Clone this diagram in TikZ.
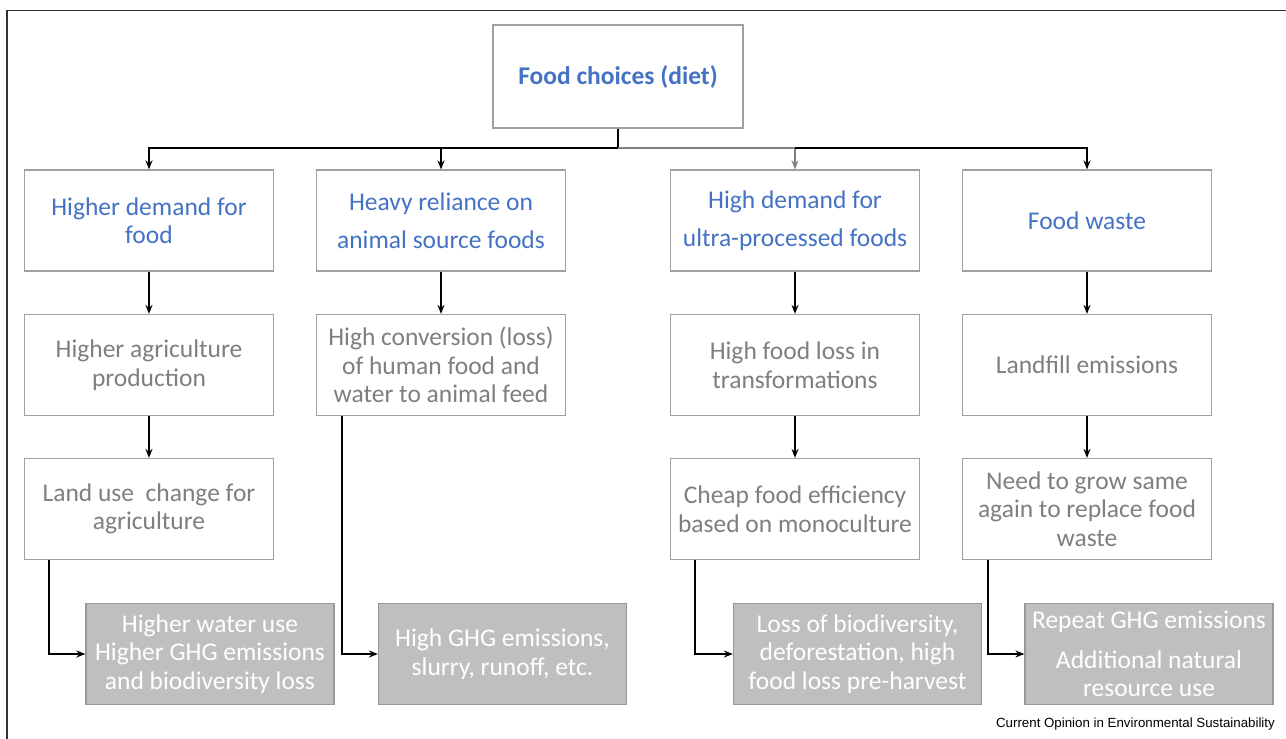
\documentclass[tikz,border=0pt]{standalone}
\usepackage{fontspec}
\setmainfont{Carlito}
\newfontfamily\footfont{Liberation Sans}
\usetikzlibrary{arrows.meta}
\definecolor{tblue}{HTML}{4472C4}
\definecolor{tgray}{HTML}{7F7F7F}
\definecolor{bordergray}{HTML}{A0A0A0}
\definecolor{fillgray}{HTML}{BFBFBF}
\definecolor{gborder}{HTML}{999999}
\begin{document}
\begin{tikzpicture}[x=1pt,y=-1pt,
  box/.style={draw=bordergray, line width=1.2pt, fill=white, minimum width=249pt, minimum height=101pt,
    align=center, inner sep=2pt, font=\fontsize{25.5}{28.5}\selectfont},
  headbox/.style={box, text=tblue},
  effbox/.style={box, text=tgray},
  graybox/.style={box, draw=gborder, fill=fillgray, text=white, minimum width=248pt},
  arr/.style={draw=black, line width=1.5pt, -{Stealth[length=9pt,width=7pt]}},
  arrg/.style={draw=gray, line width=1.5pt, -{Stealth[length=9pt,width=7pt]}},
  ln/.style={draw=black, line width=1.5pt}
]
\useasboundingbox (0,0) rectangle (1286,739);
\draw[line width=1.6pt, draw=black!80] (7,739) -- (7,10.5) -- (1286,10.5);

% top
\node[box, minimum width=250pt, minimum height=103pt, text=tblue, font=\fontsize{25.5}{28.5}\selectfont\bfseries] (top) at (618,76.5) {Food choices (diet)};

% row 1
\node[headbox] (r1a) at (149,220.5) {Higher demand for\\food};
\node[headbox] (r1b) at (441,220.5) {Heavy reliance on\\[10pt]animal source foods};
\node[headbox] (r1c) at (795,220.5) {High demand for\\[10pt]ultra-processed foods};
\node[headbox] (r1d) at (1087,220.5) {Food waste};

% row 2
\node[effbox] (r2a) at (149,365) {Higher agriculture\\production};
\node[effbox] (r2b) at (441,365) {High conversion (loss)\\of human food and\\water to animal feed};
\node[effbox] (r2c) at (795,365) {High food loss in\\transformations};
\node[effbox] (r2d) at (1087,365) {Landfill emissions};

% row 3
\node[effbox] (r3a) at (149,509) {Land use\ \ change for\\agriculture};
\node[effbox] (r3c) at (795,509) {Cheap food efficiency\\based on monoculture};
\node[effbox] (r3d) at (1087,509) {Need to grow same\\again to replace food\\waste};

% gray outcomes
\node[graybox] (g1) at (210,654) {Higher water use\\Higher GHG emissions\\and biodiversity loss};
\node[graybox] (g2) at (502.5,654) {High GHG emissions,\\slurry, runoff, etc.};
\node[graybox] (g3) at (857.5,654) {Loss of biodiversity,\\deforestation, high\\food loss pre-harvest};
\node[graybox] (g4) at (1149,654) {Repeat GHG emissions\\[11pt]Additional natural\\resource use};

% bus
\coordinate (bus) at (618,148);
\coordinate (busc) at (795,148);
\draw[ln] (top.south) -- (bus);
\draw[arr] (bus) -| (r1a.north);
\draw[arr] (bus) -| (r1b.north);
\draw[arrg] (bus) -| (r1c.north);
\draw[arr] (busc) -| (r1d.north);

% vertical chains
\draw[arr] (r1a) -- (r2a);
\draw[arr] (r1b) -- (r2b);
\draw[arr] (r1c) -- (r2c);
\draw[arr] (r1d) -- (r2d);
\draw[arr] (r2a) -- (r3a);
\draw[arr] (r2c) -- (r3c);
\draw[arr] (r2d) -- (r3d);

% elbows to outcomes
\draw[arr] ([xshift=25pt]r3a.south west) |- (g1.west);
\draw[arr] ([xshift=26pt]r2b.south west) |- (g2.west);
\draw[arr] ([xshift=25pt]r3c.south west) |- (g3.west);
\draw[arr] ([xshift=26pt]r3d.south west) |- (g4.west);

% footer
\node[anchor=east, inner sep=0pt, font=\footfont\fontsize{13.3}{15}\selectfont] (foot) at (1275,724) {Current Opinion in Environmental Sustainability};
\end{tikzpicture}
\end{document}
